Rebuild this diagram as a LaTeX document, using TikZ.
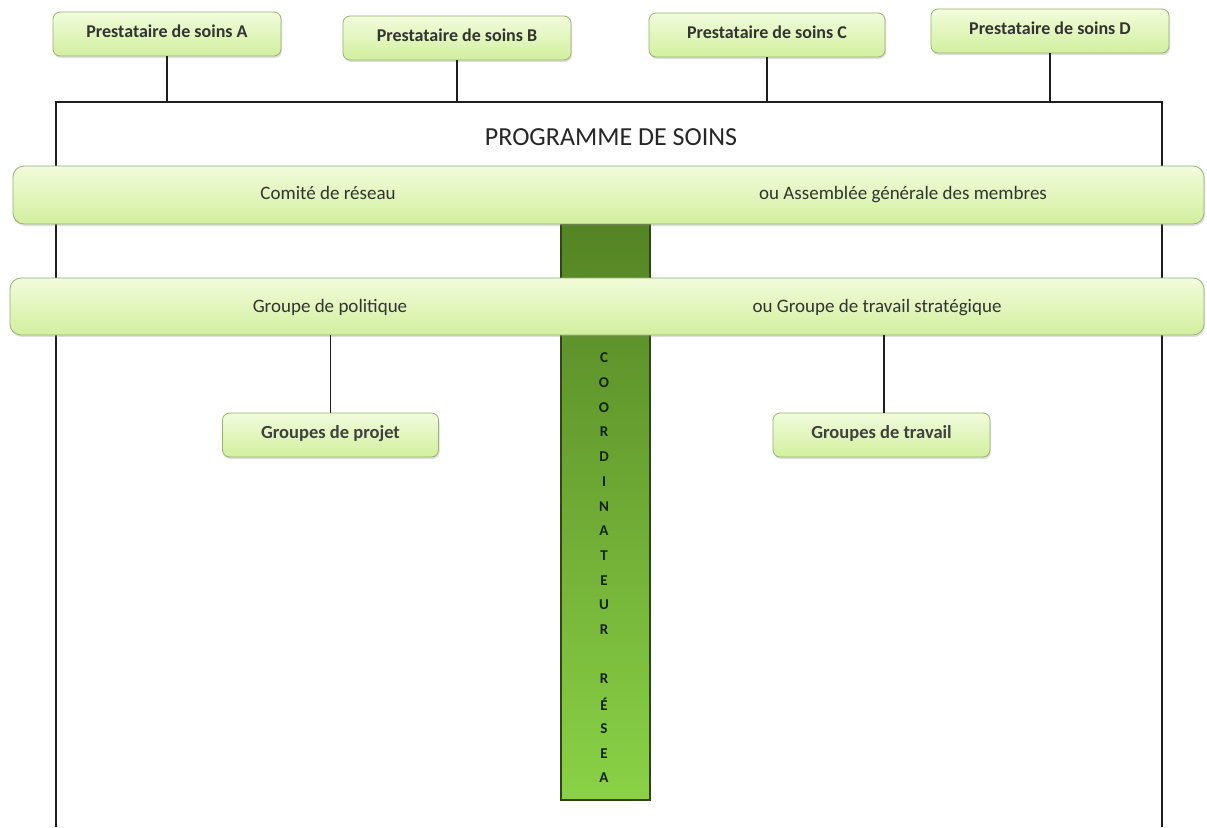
\documentclass[tikz,border=0pt]{standalone}
\usepackage{fontspec}
\setmainfont{Carlito}
\usetikzlibrary{shadows}
\definecolor{boxtop}{RGB}{242,252,220}
\definecolor{boxbot}{RGB}{210,239,158}
\definecolor{boxline}{RGB}{150,178,112}
\definecolor{bartop}{RGB}{84,132,36}
\definecolor{barbot}{RGB}{138,210,70}
\definecolor{barline}{RGB}{45,70,20}
\definecolor{bartext}{RGB}{20,35,10}
\definecolor{frameline}{RGB}{30,30,30}
\tikzset{
  greenbox/.style={draw=boxline, line width=0.8pt, rounded corners=7pt,
    top color=boxtop, bottom color=boxbot,
    drop shadow={shadow xshift=1pt, shadow yshift=-2pt, opacity=0.25},
    inner sep=0pt, anchor=center},
  provider/.style={greenbox, minimum width=228pt, minimum height=44pt,
    font=\fontsize{18}{20}\selectfont\bfseries, text=black!80,
    text height=1.9ex, text depth=0.3ex},
  band/.style={greenbox, rounded corners=11pt, minimum height=58pt},
  bandlabel/.style={font=\fontsize{19}{21}\selectfont, text=black!80, inner sep=0pt,
    text height=1.9ex, text depth=0.3ex},
  groupbox/.style={greenbox, minimum width=216pt, minimum height=44pt,
    font=\fontsize{18.5}{20}\selectfont\bfseries, text=black!75,
    text height=1.9ex, text depth=0.3ex},
  frame/.style={draw=frameline, line width=1.3pt},
  link/.style={draw=frameline, line width=1.2pt},
  barletter/.style={font=\fontsize{15}{16}\selectfont\bfseries, text=bartext, inner sep=0pt}
}
\begin{document}
\begin{tikzpicture}[x=1pt,y=-1pt]
\useasboundingbox[fill=white] (0,0) rectangle (1207,827);
% frame
\coordinate (fl) at (56,102);
\coordinate (fr) at (1162,102);
\coordinate (flb) at (56,827);
\coordinate (frb) at (1162,827);
\draw[frame] (flb) -- (fl) -- (fr) -- (frb);
\node[font=\fontsize{26}{28}\selectfont, text=black!85] (prog) at (611,137) {PROGRAMME DE SOINS};
% coordinator bar
\node[draw=barline, line width=1.2pt, top color=bartop, bottom color=barbot,
  minimum width=89pt, minimum height=576pt, inner sep=0pt] (bar) at (605.5,512) {};
% providers
\node[provider] (pa) at (167,34) {Prestataire de soins A};
\node[provider] (pb) at (457,38) {Prestataire de soins B};
\node[provider, minimum width=236pt] (pc) at (767,35) {Prestataire de soins C};
\node[provider, minimum width=238pt] (pd) at (1050,31) {Prestataire de soins D};
\draw[link] (pa.south) -- (pa.south |- fl);
\draw[link] (pb.south) -- (pb.south |- fl);
\draw[link] (pc.south) -- (pc.south |- fl);
\draw[link] (pd.south) -- (pd.south |- fl);
% bands
\node[band, minimum width=1191pt] (comite) at (608.5,195) {};
\node[bandlabel] (cl) at (328,196) {Comité de réseau};
\node[bandlabel] (cr) at (903,196) {ou Assemblée générale des membres};
\node[band, minimum width=1194pt, minimum height=57pt] (groupe) at (607,306.5) {};
\node[bandlabel] (gl) at (330,309) {Groupe de politique};
\node[bandlabel] (gr) at (877,309) {ou Groupe de travail stratégique};
% sub groups
\node[groupbox] (gp) at (330.5,435) {Groupes de projet};
\node[groupbox, minimum width=217pt] (gt) at (881.5,435) {Groupes de travail};
\draw[link] (groupe.south -| gp) -- (gp.north);
\draw[link] ([xshift=2.5pt]groupe.south -| gt) -- ([xshift=2.5pt]gt.north);
% coordinator letters
\foreach \l [count=\i from 0] in {C,O,O,R,D,I,N,A,T,E,U,R,{},R,É,S,E,A}{
  \node[barletter] (bl\i) at (604,358+24.7*\i) {\l};
}
\end{tikzpicture}
\end{document}
